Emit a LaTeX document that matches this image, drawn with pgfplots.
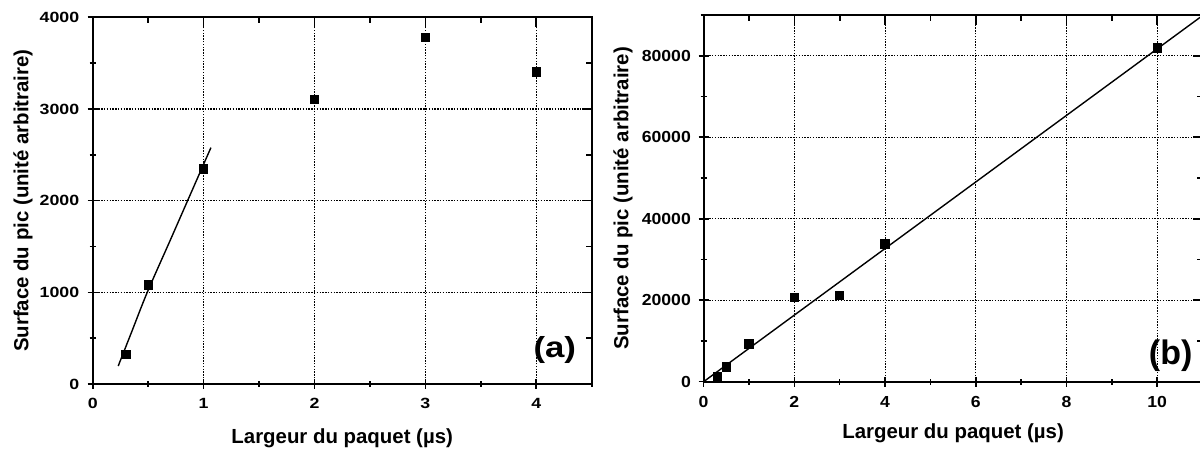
\documentclass[border=0pt]{standalone}
\usepackage{pgfplots}
\pgfplotsset{compat=1.18}
\usepackage{fontspec}
\setmainfont{Liberation Sans}
\begin{document}
\begin{tikzpicture}
\useasboundingbox (0pt,0pt) rectangle (600pt,226.5pt);
\pgfplotsset{
  base/.style={
    scale only axis, width=249.5pt, height=183.35pt, anchor=south west,
    axis line style={line width=1pt, black},
    every tick/.style={black, line width=0.8pt},
    major tick length=5pt, minor tick length=3pt,
    /pgf/number format/assume math mode=true,
    /pgf/number format/1000 sep={},
    scaled ticks=false,
  },
  main/.style={
    base,
    xtick pos=left, ytick pos=left, tick align=center,
    grid=major,
    major grid style={black, line width=0.55pt, dash pattern=on 0.7pt off 0.7pt},
    label style={font=\fontsize{10.2}{12}\selectfont\bfseries},
    xticklabel style={yshift=-1.3pt},
  },
  over/.style={
    base,
    xtick pos=right, ytick pos=right, tick align=inside,
    xticklabels={}, yticklabels={},
  },
}
% ---------------- (a) ----------------
\begin{axis}[main, at={(46.35pt,34.5pt)},
  xmin=0, xmax=4.5, ymin=0, ymax=4000,
  xtick={0,1,2,3,4}, minor xtick={0.5,1.5,2.5,3.5,4.5},
  ytick={0,1000,2000,3000,4000}, minor ytick={500,1500,2500,3500},
  ticklabel style={font=\fontsize{7.4}{8}\selectfont\bfseries, xscale=1.2},
  xlabel={Largeur du paquet (µs)},
  ylabel={Surface du pic (unité arbitraire)},
  xlabel style={at={(axis description cs:0.5,-0.147)}, anchor=center},
  ylabel style={at={(axis description cs:-0.1397,0.5)}, anchor=center},
]
\addplot[only marks, mark=square*, mark size=2.1pt, black] coordinates {
  (0.3,320) (0.5,1080) (1,2345) (2,3106) (3,3778) (4,3404)
};
\addplot[no marks, smooth, black, line width=0.7pt] coordinates {
  (0.23,196) (0.35,564) (0.492,1000) (0.7,1570) (0.856,2000) (1.066,2578)
};
\node[font=\fontsize{14.5}{14.5}\selectfont\bfseries, xscale=1.2] at (rel axis cs:0.926,0.093) {(a)};
\end{axis}
\begin{axis}[over, at={(46.35pt,34.5pt)},
  xmin=0, xmax=4.5, ymin=0, ymax=4000,
  xtick={0,1,2,3,4}, minor xtick={0.5,1.5,2.5,3.5,4.5},
  ytick={0,1000,2000,3000,4000}, minor ytick={500,1500,2500,3500},
]
\end{axis}
% ---------------- (b) ----------------
\begin{axis}[main, at={(351.8pt,35.65pt)},
  xmin=0, xmax=11, ymin=0, ymax=90000,
  xtick={0,2,4,6,8,10}, minor xtick={1,3,5,7,9,11},
  ytick={0,20000,40000,60000,80000}, minor ytick={10000,30000,50000,70000,90000},
  ticklabel style={font=\fontsize{8}{9}\selectfont\bfseries, xscale=1.1},
  xlabel={Largeur du paquet (µs)},
  ylabel={Surface du pic (unité arbitraire)},
  xlabel style={at={(axis description cs:0.5,-0.14)}, anchor=center},
  ylabel style={at={(axis description cs:-0.1617,0.5)}, anchor=center},
]
\addplot[only marks, mark=square*, mark size=2.1pt, black] coordinates {
  (0.3,1200) (0.5,3650) (1,9300) (2,20680) (3,21180) (4,33820) (10,81970)
};
\addplot[no marks, black, line width=0.7pt] coordinates {
  (0,0) (11,89870)
};
\node[font=\fontsize{17}{17}\selectfont\bfseries] at (rel axis cs:0.936,0.07) {(b)};
\end{axis}
\begin{axis}[over, at={(351.8pt,35.65pt)},
  xmin=0, xmax=11, ymin=0, ymax=90000,
  xtick={0,2,4,6,8,10}, minor xtick={1,3,5,7,9,11},
  ytick={0,20000,40000,60000,80000}, minor ytick={10000,30000,50000,70000,90000},
]
\end{axis}
\end{tikzpicture}
\end{document}
